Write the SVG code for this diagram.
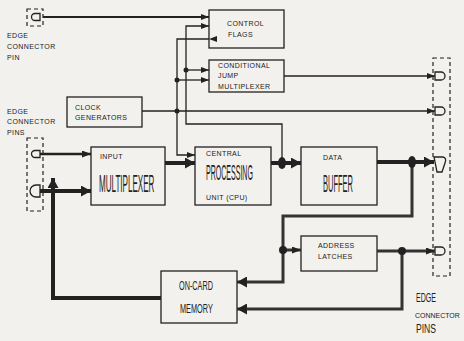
<svg xmlns="http://www.w3.org/2000/svg" width="464" height="341" viewBox="0 0 464 341">
<style>
.bx{fill:none;stroke:#222;stroke-width:1.3}
.t{font-family:"Liberation Sans",Arial,sans-serif;font-size:7px;letter-spacing:0.4px;fill:#222}
.c{font-family:"Liberation Sans",Arial,sans-serif;fill:#222}
.w{fill:none;stroke:#222;stroke-width:1.3}
.m{fill:none;stroke:#222;stroke-width:2.4}
.b{fill:none;stroke:#222;stroke-width:4}
.b3{fill:none;stroke:#333;stroke-width:3}
.d{fill:#222}
.dash{fill:none;stroke:#222;stroke-width:1.2;stroke-dasharray:4 3}
.pin{fill:#f2f1ed;stroke:#222;stroke-width:1.3}
</style>
<defs>
<marker id="a" markerUnits="userSpaceOnUse" markerWidth="8" markerHeight="6" refX="8" refY="3" orient="auto"><path d="M0,0 L8,3 L0,6 z" fill="#222"/></marker>
<marker id="am" markerUnits="userSpaceOnUse" markerWidth="9" markerHeight="7" refX="9" refY="3.5" orient="auto"><path d="M0,0 L9,3.5 L0,7 z" fill="#222"/></marker>
<marker id="ab" markerUnits="userSpaceOnUse" markerWidth="10" markerHeight="11" refX="10" refY="5.5" orient="auto"><path d="M0,0 L10,5.5 L0,11 z" fill="#222"/></marker>
</defs>
<rect width="464" height="341" fill="#f2f1ed"/>

<g id="nodes">
<g id="control-flags"><rect class="bx" x="209" y="10" width="75" height="38"/><text class="t" x="227" y="26">CONTROL</text><text class="t" x="228" y="37">FLAGS</text></g>
<g id="cond-jump"><rect class="bx" x="209" y="60" width="75" height="32"/><text class="t" x="218" y="68">CONDITIONAL</text><text class="t" x="218" y="78">JUMP</text><text class="t" x="218" y="89">MULTIPLEXER</text></g>
<g id="clock"><rect class="bx" x="67" y="97" width="75" height="30"/><text class="t" x="75" y="110">CLOCK</text><text class="t" x="75" y="120">GENERATORS</text></g>
<g id="input-mux"><rect class="bx" x="91" y="147" width="74" height="58"/><text class="t" x="100" y="159">INPUT</text><text class="c" font-size="24" transform="translate(99,192) scale(0.336,1)">MULTIPLEXER</text></g>
<g id="cpu"><rect class="bx" x="195" y="147" width="76" height="58"/><text class="t" x="206" y="156">CENTRAL</text><text class="c" font-size="22" transform="translate(206,180) scale(0.32,1)">PROCESSING</text><text class="t" x="206" y="200">UNIT (CPU)</text></g>
<g id="data-buffer"><rect class="bx" x="301" y="147" width="76" height="58"/><text class="t" x="323" y="160">DATA</text><text class="c" font-size="24" transform="translate(323,192) scale(0.3125,1)">BUFFER</text></g>
<g id="address-latches"><rect class="bx" x="301" y="236" width="76" height="35"/><text class="t" x="318" y="248">ADDRESS</text><text class="t" x="318" y="259">LATCHES</text></g>
<g id="memory"><rect class="bx" x="161" y="271" width="76" height="52"/><text class="c" font-size="12" transform="translate(179,290) scale(0.607,1)">ON-CARD</text><text class="c" font-size="13" transform="translate(180,313) scale(0.564,1)">MEMORY</text></g>
<g id="pin-top-left"><rect class="dash" x="27" y="9" width="16" height="17"/><path class="pin" d="M40,13.5 L35,13.5 A3.5,3.5 0 0 0 35,20.5 L40,20.5 Z"/><text class="t" x="7" y="38">EDGE</text><text class="t" x="7" y="49">CONNECTOR</text><text class="t" x="7" y="60">PIN</text></g>
<g id="pins-left"><rect class="dash" x="27" y="138" width="16" height="73"/><path class="pin" d="M40,150.5 L35,150.5 A3.5,3.5 0 0 0 35,157.5 L40,157.5 Z"/><path class="pin" d="M40,185 L36,185 A6,6 0 0 0 36,197 L40,197 Z"/><text class="t" x="7" y="114">EDGE</text><text class="t" x="7" y="124">CONNECTOR</text><text class="t" x="7" y="135">PINS</text></g>
<g id="pins-right"><rect class="dash" x="433" y="58" width="17" height="218"/>
<path class="pin" d="M435,72 L441,72 A4,4 0 0 1 441,80 L435,80 Z"/>
<path class="pin" d="M435,107 L441,107 A4,4 0 0 1 441,115 L435,115 Z"/>
<path class="pin" d="M434,157 L443,157 Q447,158 445,163 L442,172 L437,172 Z"/>
<path class="pin" d="M435,247 L441,247 A4,4 0 0 1 441,255 L435,255 Z"/>
<text class="c" font-size="13" transform="translate(416,302) scale(0.543,1)">EDGE</text><text class="c" font-size="8" transform="translate(415,318) scale(0.872,1)">CONNECTOR</text><text class="c" font-size="13" transform="translate(416,333) scale(0.66,1)">PINS</text></g>
</g>

<g id="connectors">
<path class="m" style="stroke-width:1.8" d="M43,17 H209" marker-end="url(#a)"/>
<path class="w" d="M282,163 V124 H186 V26 H209" marker-end="url(#a)"/>
<path class="w" d="M186,70 H209" marker-end="url(#a)"/>
<path class="w" d="M209,39 H177 V155 H195" marker-start="url(#a)" marker-end="url(#a)"/>
<path class="w" d="M177,80 H209" marker-end="url(#a)"/>
<path class="w" d="M142,111 H435" marker-end="url(#a)"/>
<path class="w" d="M284,76 H435" marker-end="url(#a)"/>
<path class="m" d="M40,154 H91" marker-end="url(#am)"/>
<path class="b" d="M40,191 H91" marker-end="url(#ab)"/>
<path class="b" d="M161,298 H53 V178" marker-end="url(#ab)"/>
<path class="b" d="M165,163 H195" marker-end="url(#ab)"/>
<path class="b" d="M271,163 H301" marker-end="url(#ab)"/>
<path class="b" d="M377,162 H434" marker-end="url(#ab)"/>
<path class="b3" d="M412,162 V216 H283 V282 H237" marker-end="url(#ab)"/>
<path class="b3" d="M283,250 H301" marker-end="url(#am)"/>
<path class="b3" d="M377,251 H435" marker-end="url(#am)"/>
<path class="b3" d="M402,251 V309 H237" marker-end="url(#ab)"/>
<circle class="d" cx="186" cy="70" r="2.5"/>
<circle class="d" cx="177" cy="80" r="2.5"/>
<circle class="d" cx="177" cy="111" r="2.5"/>
<ellipse class="d" cx="282" cy="163" rx="4" ry="6"/>
<ellipse class="d" cx="412" cy="162" rx="4" ry="6"/>
<circle class="d" cx="283" cy="250" r="4"/>
<circle class="d" cx="402" cy="251" r="4"/>
</g>
</svg>
